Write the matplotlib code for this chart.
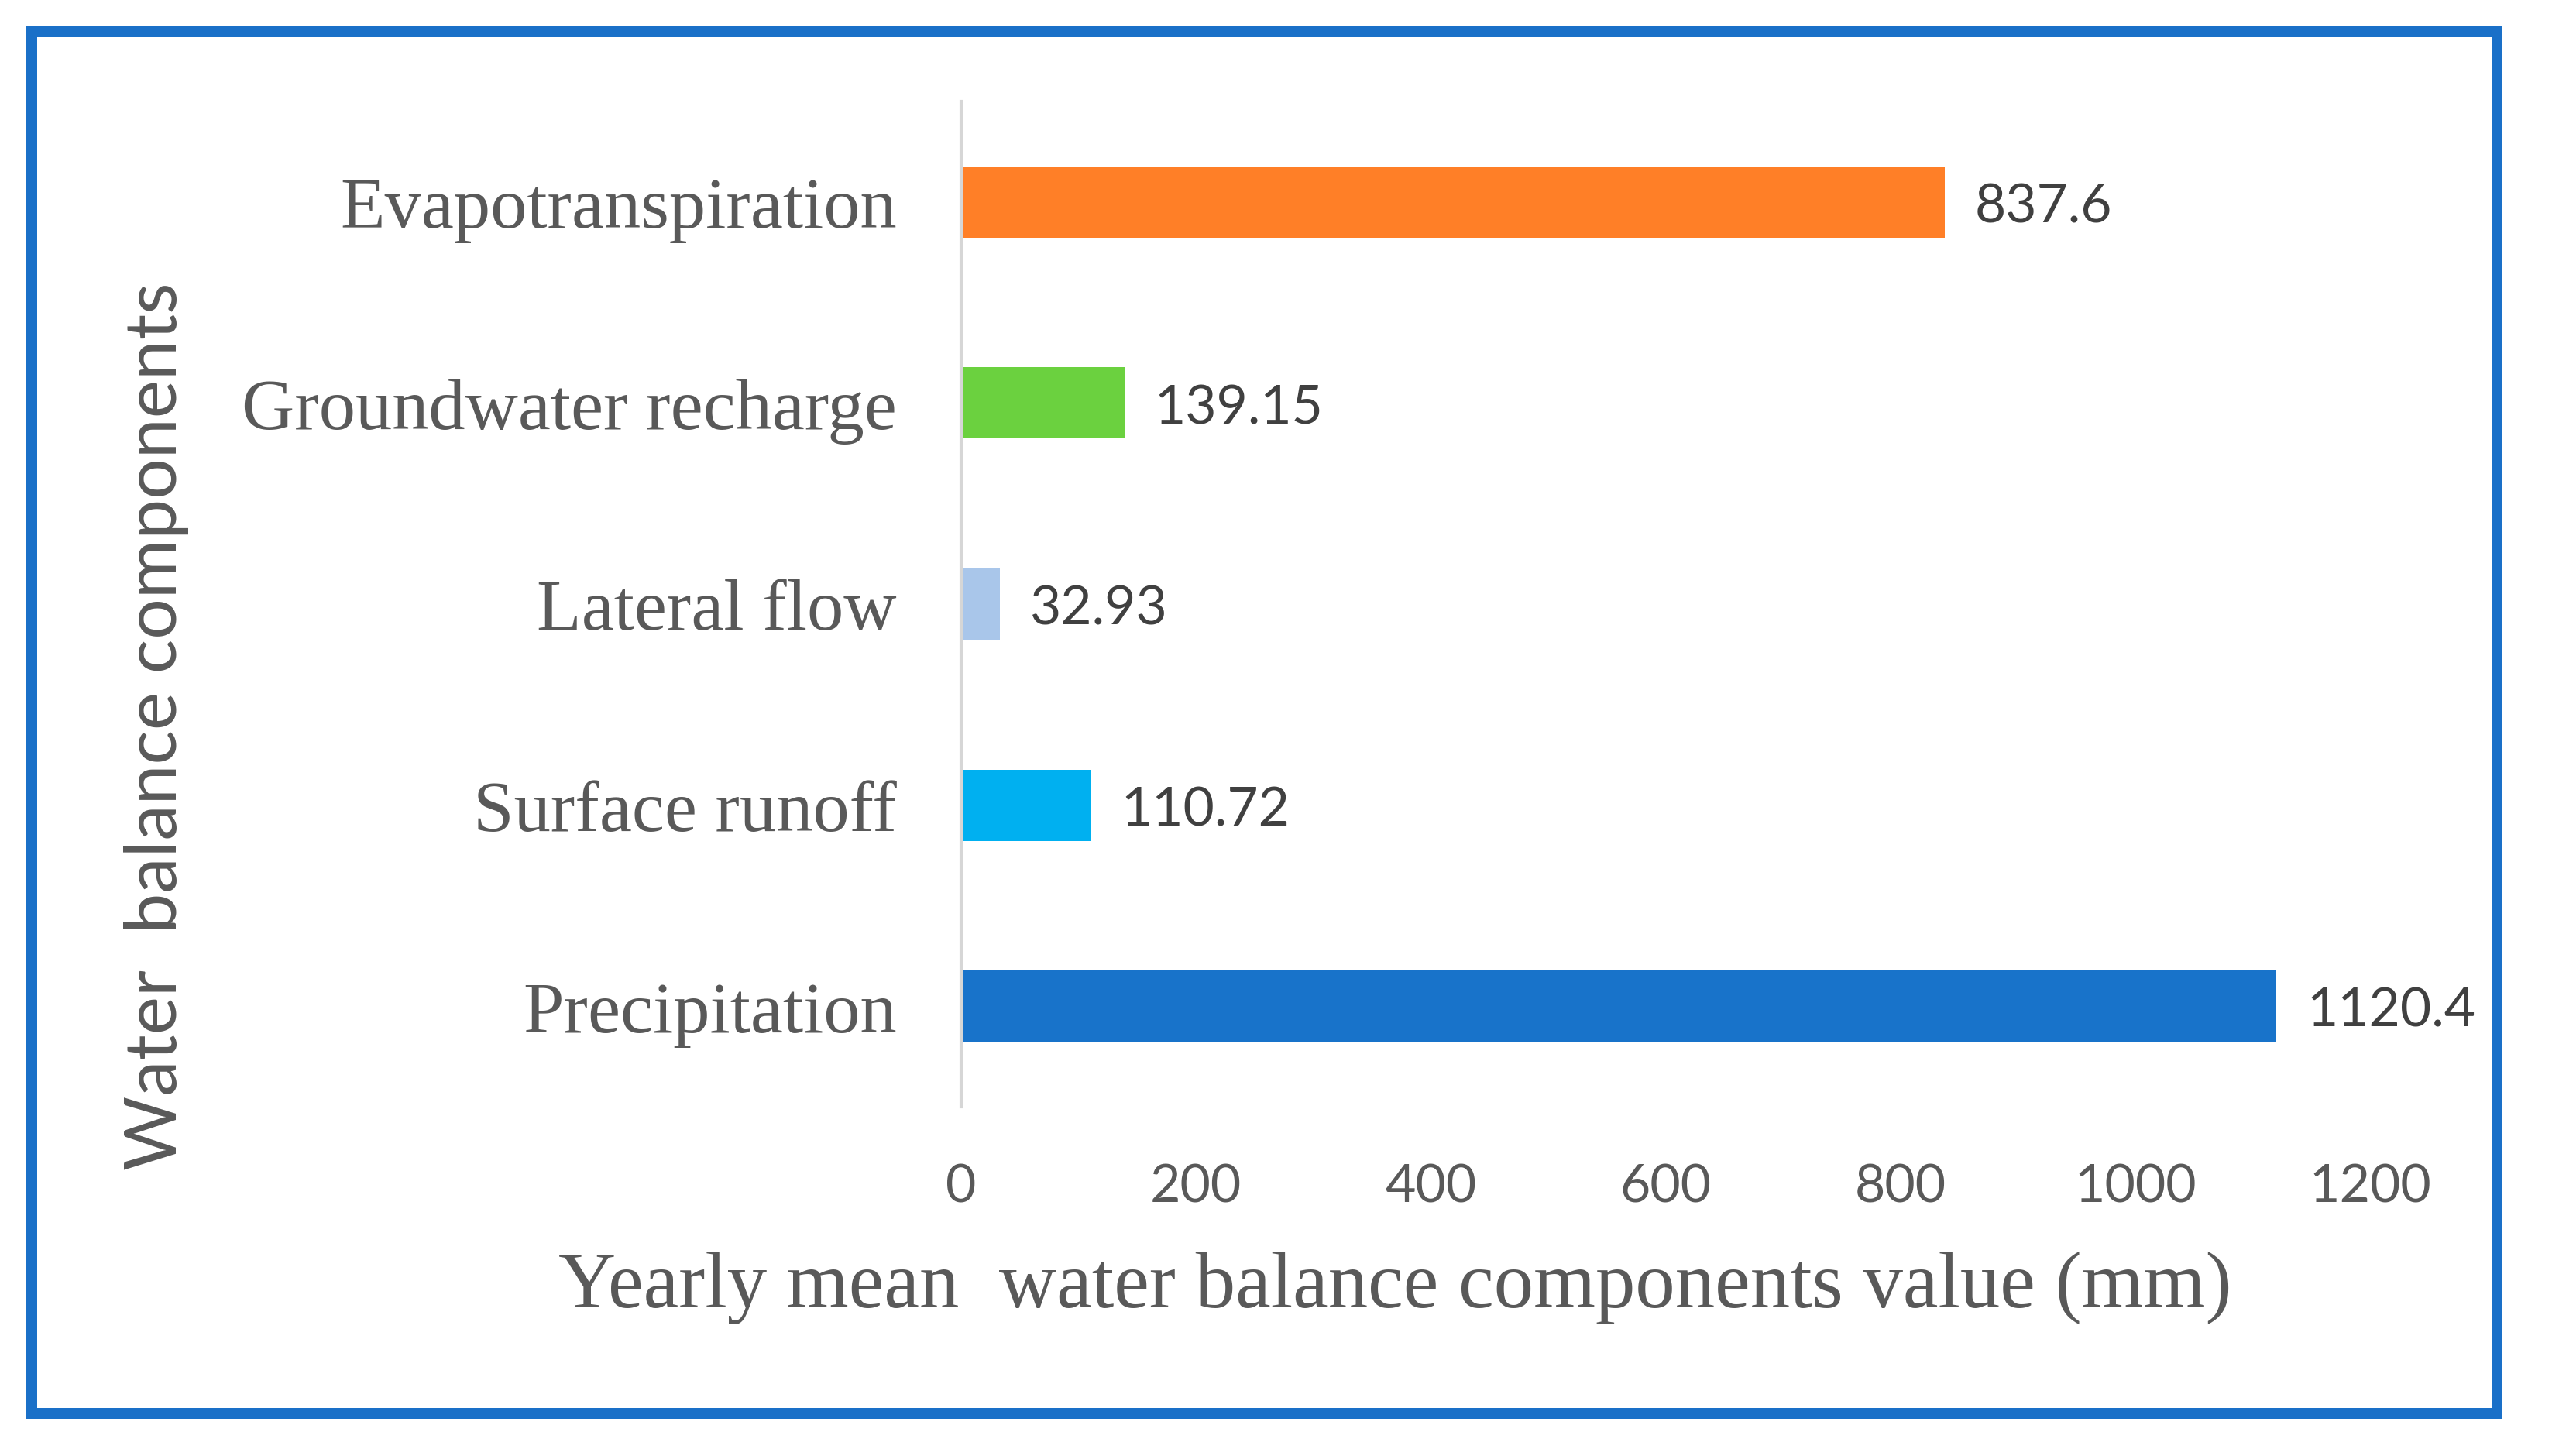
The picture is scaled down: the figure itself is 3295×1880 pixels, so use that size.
import matplotlib
matplotlib.use("Agg")
import matplotlib.pyplot as plt
from matplotlib.patches import Rectangle

# ---- data ----
categories = ["Precipitation", "Surface runoff", "Lateral flow",
              "Groundwater recharge", "Evapotranspiration"]
values = [1120.4, 110.72, 32.93, 139.15, 837.6]
value_labels = ["1120.4", "110.72", "32.93", "139.15", "837.6"]
bar_colors = ["#1873CA", "#00B0F0", "#A9C6EA", "#6BD13F", "#FF7F27"]
xticks = [0, 200, 400, 600, 800, 1000, 1200]
xlabel = "Yearly mean  water balance components value (mm)"
ylabel = "Water  balance components"

W, H, DPI = 3295, 1881, 200
fig = plt.figure(figsize=(W / DPI, H / DPI), dpi=DPI)
fig.patch.set_facecolor("white")

ax = fig.add_axes([1241 / W, 1 - 1430 / H, (3060 - 1241) / W, (1430 - 132) / H])

ypos = list(range(len(categories)))
ax.barh(ypos, values, height=0.355, color=bar_colors, zorder=2)

ax.set_xlim(0, 1200)
ax.set_ylim(-0.5, len(categories) - 0.5)
ax.set_xticks(xticks)
ax.set_xticklabels([str(t) for t in xticks], family="Lato", fontsize=24.5, color="#595959")
ax.set_yticks(ypos)
ax.set_yticklabels(categories, family="Liberation Serif", fontsize=34, color="#595959")
ax.tick_params(axis="both", length=0)
ax.tick_params(axis="y", pad=30)
ax.tick_params(axis="x", pad=26)

for s in ["top", "right", "bottom"]:
    ax.spines[s].set_visible(False)
ax.spines["left"].set_color("#D6D6D6")
ax.spines["left"].set_linewidth(1.5)
ax.spines["left"].set_zorder(3)

for y, v, lab in zip(ypos, values, value_labels):
    ax.annotate(lab, xy=(v, y), xytext=(14, -2.2), textcoords="offset points",
                ha="left", va="center", family="Lato", fontsize=25, color="#404040")

ax.set_xlabel(xlabel, family="Liberation Serif", fontsize=37, color="#595959")
ax.xaxis.set_label_coords((1801 - 1241) / (3060 - 1241), ((1 - 1663 / H) - (1 - 1430 / H)) / ((1430 - 132) / H))
ax.xaxis.label.set_va("center")
ax.set_ylabel(ylabel, family="Lato", fontsize=33.5, color="#595959")
ax.yaxis.set_label_coords((202 - 1241) / (3060 - 1241), ((1 - 938 / H) - (1 - 1430 / H)) / ((1430 - 132) / H))
ax.yaxis.label.set_va("center")

# blue frame around the chart
lw_px = 14
frame = Rectangle((41 / W, 1 - 1826 / H), (3224 - 41) / W, (1826 - 42) / H,
                  transform=fig.transFigure, fill=False, edgecolor="#1A70C8",
                  linewidth=lw_px * 72 / DPI, joinstyle="miter")
fig.patches.append(frame)

fig.savefig("out.png", dpi=DPI)
